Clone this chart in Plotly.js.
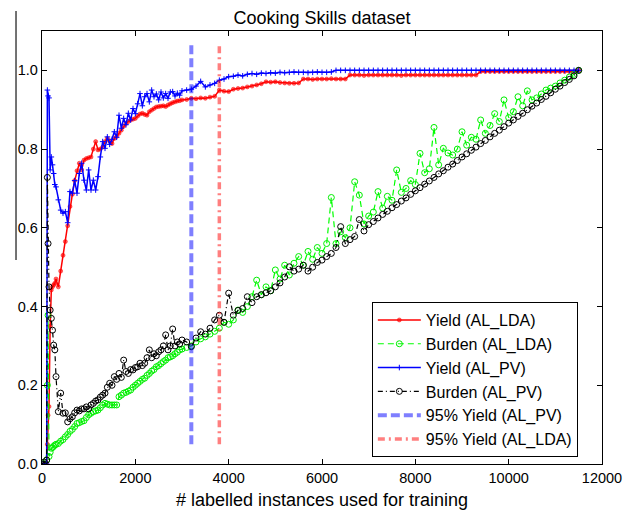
<!DOCTYPE html>
<html>
<head>
<meta charset="utf-8">
<script src="https://cdn.plot.ly/plotly-3.0.1.min.js"></script>
<style>html,body{margin:0;padding:0;background:#fff;}#chart{width:635px;height:511px;}</style>
</head>
<body>
<div id="chart"></div>
<script>
// Shared x grid (# labelled instances used for training)
var instances = [0,50,100,115,130,150,175,200,225,250,275,300,
350,400,450,500,550,600,650,700,750,800,850,900,950,1000,
1050,1100,1150,1200,1250,1300,1350,1400,1450,1500,1550,1600,1650,1700,1750,1800,1850,1900,1950,2000,
2050,2100,2150,2200,2250,2300,2350,2400,2450,2500,2550,2600,2650,2700,2750,2800,2850,2900,2950,3000,
3100,3200,3300,3400,3500,3600,3700,3800,3900,4000,4100,4200,4300,4400,4500,4600,4700,4800,4900,5000,
5100,5200,5300,5400,5500,5600,5700,5800,5900,6000,6100,6200,6300,6400,6500,6600,6700,6800,6900,7000,
7100,7200,7300,7400,7500,7600,7700,7800,7900,8000,8100,8200,8300,8400,8500,8600,8700,8800,8900,9000,
9100,9200,9300,9400,9500,9600,9700,9800,9900,10000,10100,10200,10300,10400,10500,10600,10700,10800,10900,11000,
11100,11200,11300,11400,11500];

var yieldLDA = [0,0,0,0.05,0.124,0.146,0.35,0.442,0.45,0.455,0.459,0.47,
0.45,0.49,0.53,0.565,0.605,0.654,0.685,0.72,0.745,0.764,0.747,0.772,0.776,0.778,
0.78,0.8,0.819,0.798,0.8,0.805,0.819,0.827,0.82,0.814,0.827,0.832,0.84,0.848,0.858,0.865,0.87,0.874,0.876,0.878,
0.884,0.889,0.891,0.888,0.886,0.895,0.899,0.903,0.907,0.908,0.909,0.91,0.908,0.912,0.915,0.918,0.92,0.922,0.923,0.925,
0.926,0.929,0.928,0.93,0.929,0.932,0.934,0.95,0.947,0.946,0.952,0.954,0.955,0.958,0.96,0.963,0.966,0.971,0.97,0.971,
0.969,0.968,0.967,0.967,0.968,0.978,0.978,0.977,0.978,0.978,0.978,0.979,0.978,0.978,0.978,0.988,0.988,0.988,0.987,0.988,
0.988,0.988,0.988,0.988,0.988,0.988,0.987,0.988,0.988,0.988,0.988,0.988,0.988,0.988,0.988,0.988,0.988,0.988,0.988,0.988,
0.988,0.988,0.988,0.997,0.997,0.997,0.997,0.997,0.997,0.997,0.997,0.997,0.997,0.997,0.997,0.997,0.997,0.997,0.997,0.997,
0.997,0.997,0.997,0.997,1.0];

var burdenLDA = [0,0,0.01,0.2,0.378,0.019,0.03,0.04,0.042,0.045,0.048,0.05,
0.052,0.058,0.062,0.069,0.075,0.083,0.088,0.095,0.103,0.105,0.108,0.11,0.118,0.125,
0.129,0.133,0.135,0.137,0.143,0.15,0.154,0.152,0.15,0.15,0.15,0.15,0.171,0.175,0.18,0.182,0.185,0.188,0.195,0.2,
0.205,0.21,0.215,0.218,0.225,0.23,0.236,0.24,0.247,0.25,0.255,0.26,0.264,0.27,0.272,0.275,0.28,0.284,0.29,0.292,
0.296,0.3,0.31,0.318,0.323,0.33,0.337,0.345,0.36,0.355,0.366,0.391,0.385,0.4,0.425,0.467,0.43,0.45,0.44,0.493,
0.47,0.505,0.48,0.51,0.527,0.505,0.54,0.52,0.55,0.535,0.56,0.677,0.56,0.59,0.575,0.6,0.717,0.683,0.61,0.63,
0.64,0.692,0.65,0.68,0.67,0.747,0.69,0.7,0.72,0.71,0.789,0.74,0.75,0.855,0.76,0.802,0.79,0.785,0.8,0.844,
0.81,0.83,0.825,0.874,0.84,0.86,0.89,0.87,0.925,0.88,0.895,0.933,0.91,0.948,0.925,0.93,0.94,0.95,0.955,0.96,
0.968,0.975,0.983,0.99,1.0];

var yieldPV = [0,0,0,0.95,0.935,0.93,0.747,0.78,0.76,0.738,0.71,0.704,
0.671,0.645,0.637,0.641,0.613,0.692,0.688,0.72,0.688,0.738,0.764,0.721,0.696,0.747,
0.696,0.721,0.696,0.73,0.78,0.819,0.802,0.831,0.812,0.825,0.844,0.83,0.886,0.853,0.878,0.862,0.891,0.874,0.903,0.89,
0.915,0.941,0.91,0.933,0.941,0.92,0.95,0.933,0.94,0.925,0.945,0.93,0.941,0.929,0.945,0.946,0.935,0.942,0.937,0.948,
0.95,0.952,0.96,0.972,0.958,0.963,0.967,0.975,0.978,0.984,0.985,0.988,0.986,0.99,0.992,0.99,0.993,0.992,0.994,0.993,
0.995,0.994,0.995,0.996,0.995,0.995,0.994,0.995,0.996,0.995,0.995,0.996,1.0,1.0,1.0,1.0,1.0,1.0,1.0,1.0,
1.0,1.0,1.0,1.0,1.0,1.0,1.0,1.0,1.0,1.0,1.0,1.0,1.0,1.0,1.0,1.0,1.0,1.0,1.0,1.0,
1.0,1.0,1.0,1.0,1.0,1.0,1.0,1.0,1.0,1.0,1.0,1.0,1.0,1.0,1.0,1.0,1.0,1.0,1.0,1.0,
1.0,1.0,1.0,1.0,1.0];

var burdenPV = [0,0.005,0.01,0.728,0.56,0.45,0.391,0.37,0.34,0.302,0.29,0.222,
0.133,0.18,0.129,0.13,0.107,0.115,0.12,0.13,0.137,0.135,0.14,0.14,0.145,0.14,
0.15,0.154,0.16,0.163,0.17,0.175,0.18,0.195,0.205,0.2,0.222,0.215,0.23,0.22,0.264,0.235,0.23,0.24,0.239,0.245,
0.247,0.256,0.25,0.256,0.27,0.29,0.27,0.28,0.275,0.285,0.29,0.3,0.328,0.29,0.3,0.343,0.3,0.31,0.305,0.315,
0.31,0.298,0.32,0.336,0.33,0.345,0.366,0.378,0.36,0.434,0.378,0.39,0.395,0.425,0.41,0.425,0.43,0.435,0.44,0.45,
0.46,0.475,0.501,0.49,0.495,0.505,0.49,0.5,0.512,0.518,0.527,0.535,0.55,0.603,0.56,0.57,0.578,0.621,0.592,0.608,
0.616,0.625,0.634,0.642,0.651,0.659,0.668,0.676,0.685,0.694,0.702,0.711,0.719,0.728,0.737,0.745,0.754,0.762,0.771,0.78,
0.788,0.797,0.805,0.814,0.822,0.831,0.84,0.848,0.857,0.866,0.874,0.883,0.891,0.9,0.909,0.917,0.926,0.934,0.943,0.952,
0.96,0.969,0.977,0.986,1.0];

// 95% yield markers (instances) and the vertical extent drawn
var yield95PV = [3200, 3200];
var yield95LDA = [3800, 3800];
var yield95Span = [0.05, 1.07];

var seriesNames = ['Yield (AL_LDA)','Burden (AL_LDA)','Yield (AL_PV)','Burden (AL_PV)','95% Yield (AL_PV)','95% Yield (AL_LDA)'];

var xTickVals = [0, 2000, 4000, 6000, 8000, 10000, 12000];
var xTickText = ['0', '2000', '4000', '6000', '8000', '10000', '12000'];
var yTickVals = [0, 0.2, 0.4, 0.6, 0.8, 1.0];

var FONT = 'Liberation Sans, Arial, Helvetica, sans-serif';

var traces = [
  {x: instances, y: yieldLDA, name: seriesNames[0], mode: 'lines+markers',
   line: {color: '#ff0000', width: 1.5},
   marker: {symbol: 'circle', size: 4, color: 'rgba(255,0,0,0.6)', line: {color: '#ff0000', width: 0.5}}},
  {x: instances, y: burdenLDA, name: seriesNames[1], mode: 'lines+markers',
   line: {color: '#00ff00', width: 1.2, dash: '6px,4px'},
   marker: {symbol: 'circle-open', size: 6, color: '#00ee00', line: {width: 1}}},
  {x: instances, y: yieldPV, name: seriesNames[2], mode: 'lines+markers',
   line: {color: '#0000ff', width: 1.5},
   marker: {symbol: 'cross-thin-open', size: 4, color: '#0000ff', line: {width: 1, color: '#0000ff'}}},
  {x: instances, y: burdenPV, name: seriesNames[3], mode: 'lines+markers',
   line: {color: '#000000', width: 1.2, dash: '5px,3px,1px,3px'},
   marker: {symbol: 'circle-open', size: 6, color: '#000000', line: {width: 1}}},
  {x: yield95PV, y: yield95Span, name: seriesNames[4], mode: 'lines',
   line: {color: 'rgba(0,0,255,0.5)', width: 4, dash: '9px,4px'}},
  {x: yield95LDA, y: yield95Span, name: seriesNames[5], mode: 'lines',
   line: {color: 'rgba(255,0,0,0.5)', width: 3.5, dash: '7px,4px,2px,4px'}}
];

var layout = {
  width: 635, height: 511,
  margin: {l: 42, r: 33, t: 31, b: 47, pad: 0},
  paper_bgcolor: '#ffffff', plot_bgcolor: '#ffffff',
  font: {family: FONT, size: 14.5, color: '#000'},
  showlegend: true,
  title: {text: 'Cooking Skills dataset', font: {family: FONT, size: 18, color: '#000'},
          x: 0.5, xref: 'paper', xanchor: 'center', y: 0.965, yref: 'container', yanchor: 'middle'},
  xaxis: {range: [0, 12000], tickmode: 'array', tickvals: xTickVals, ticktext: xTickText,
          ticks: 'inside', ticklen: 5, tickcolor: '#000', tickwidth: 1,
          showline: true, linecolor: '#000', linewidth: 1.2, mirror: 'ticks',
          showgrid: false, zeroline: false,
          tickfont: {family: FONT, size: 14.5, color: '#000'},
          title: {text: '# labelled instances used for training', font: {family: FONT, size: 18, color: '#000'}, standoff: 8}},
  yaxis: {range: [0, 1.1], tickmode: 'array', tickvals: yTickVals, tickformat: '.1f',
          ticks: 'inside', ticklen: 5, tickcolor: '#000', tickwidth: 1,
          showline: true, linecolor: '#000', linewidth: 1.2, mirror: 'ticks',
          showgrid: false, zeroline: false,
          tickfont: {family: FONT, size: 14.5, color: '#000'}},
  legend: {x: 0.589, y: 0.374, xanchor: 'left', yanchor: 'top',
           bgcolor: '#ffffff', bordercolor: '#000', borderwidth: 1,
           font: {family: FONT, size: 16, color: '#000'}, itemwidth: 43, traceorder: 'normal'},
  shapes: [
    {type: 'line', xref: 'paper', yref: 'paper', x0: -0.0464, x1: -0.0464, y0: 0.471, y1: 1.046,
     line: {color: '#444', width: 1.5}}
  ]
};

Plotly.newPlot('chart', traces, layout, {displayModeBar: false, staticPlot: true});
</script>
</body>
</html>
